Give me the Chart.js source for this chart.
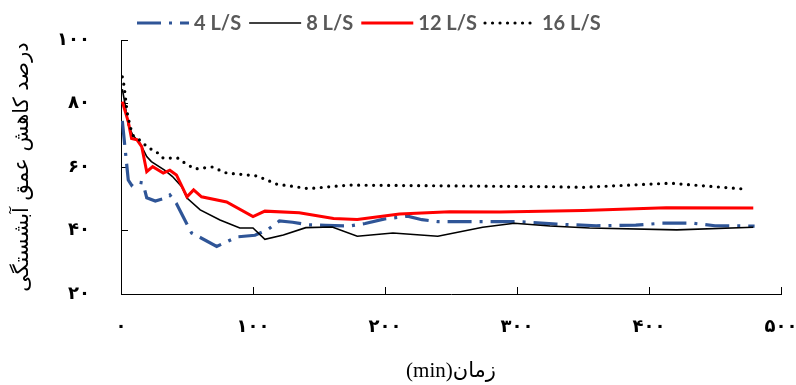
<!DOCTYPE html>
<html>
<head>
<meta charset="utf-8">
<script src="https://cdn.jsdelivr.net/npm/chart.js@4/dist/chart.umd.min.js"></script>
<style>
  html, body { margin: 0; padding: 0; background: #fff; }
  #wrap { width: 796px; height: 385px; }
</style>
</head>
<body>
<div id="wrap"><canvas id="grafico" width="796" height="385"></canvas></div>
<script>
// series labels
const seriesLabels = ['4 L/S', '8 L/S', '12 L/S', '16 L/S'];

// 4 L/S
const time4 = [1, 5.5, 8, 10.6, 16.6, 19.5, 26, 32, 37, 42, 47, 53.5, 60, 72.5, 88, 101.5, 111, 120, 130, 142, 155, 173, 185, 199, 217, 228, 240, 268, 300, 330, 360, 390, 410, 433, 450, 480];
const pct4 = [74.5, 55.9, 54.3, 55.4, 55, 50.3, 49.3, 50, 51.2, 48.5, 44.4, 39.2, 37.8, 35, 38, 38.5, 40.2, 43, 42.6, 41.8, 41.6, 41.4, 42.2, 43.6, 44.5, 43.4, 42.8, 42.8, 42.8, 42, 41.5, 41.7, 42.3, 42.3, 41.5, 41.4];

// 8 L/S
const time8 = [1, 3, 5.5, 9, 14.4, 19.5, 23, 33, 39, 46, 50, 60, 75, 90, 100, 109, 123, 140, 160, 179, 206, 240, 274, 298, 325, 355, 421, 479];
const pct8 = [84.5, 80, 73.2, 70, 67.5, 63.3, 61.7, 59, 57, 53.8, 50.2, 46.5, 43.3, 40.8, 40.8, 37.2, 38.6, 40.9, 41.1, 38.2, 39.2, 38.2, 41, 42.3, 41.4, 40.8, 40.2, 41];

// 12 L/S
const time12 = [1, 5.5, 8, 12, 15.7, 19.5, 24, 32, 37, 42, 50, 55, 61, 80, 100, 109, 135, 161, 179, 211, 249, 287, 350, 413, 479];
const pct12 = [80.6, 74.3, 69, 68.6, 66.4, 58.5, 60.1, 58.1, 59, 57.5, 50.6, 52.8, 50.6, 49, 44.4, 46.1, 45.6, 43.8, 43.5, 45.2, 45.9, 45.8, 46.3, 47.2, 47.1];

// 16 L/S
const time16 = [1, 2, 3, 4, 5, 7, 9, 15.7, 20.5, 26, 32, 43, 48.5, 56, 69, 80, 103, 118, 142, 173, 325, 350, 416, 474];
const pct16 = [88.4, 86.4, 83.3, 79.5, 76.4, 72.7, 70, 68, 66, 65.1, 62.8, 62.8, 61.2, 59.4, 60, 58.1, 57.2, 54.6, 53.2, 54.3, 53.8, 53.6, 54.9, 53];

// ticks
const xTicks = [0, 100, 200, 300, 400, 500];
const xTickLabels = ['۰', '۱۰۰', '۲۰۰', '۳۰۰', '۴۰۰', '۵۰۰'];
const yTicks = [20, 40, 60, 80, 100];
const yTickLabels = ['۲۰', '۴۰', '۶۰', '۸۰', '۱۰۰'];

const xTitle = '(min)زمان';
const yTitle = 'درصد کاهش عمق آبشستگی';

function pontos(xs, ys) {
  return xs.map((x, i) => ({ x: x, y: ys[i] }));
}

// legenda no topo, desenhada a mao
const legendaTopo = {
  id: 'legendaTopo',
  afterDraw(chart) {
    const ctx = chart.ctx;
    let x = 137;
    const y = 23;
    ctx.save();
    ctx.font = "bold 20px Lato";
    ctx.textBaseline = 'middle';
    chart.data.datasets.forEach(ds => {
      ctx.beginPath();
      ctx.strokeStyle = ds.borderColor;
      ctx.lineWidth = ds.borderWidth;
      ctx.lineCap = ds.borderCapStyle || 'butt';
      ctx.setLineDash(ds.borderDash || []);
      ctx.moveTo(x, y);
      ctx.lineTo(x + 52, y);
      ctx.stroke();
      ctx.setLineDash([]);
      x += 52 + 5;
      ctx.fillStyle = '#595959';
      ctx.fillText(ds.label, x, y + 1);
      x += ctx.measureText(ds.label).width + 8;
    });
    ctx.restore();
  }
};

// sem padding extra das escalas
function semPadding(scale) {
  scale.paddingLeft = 0;
  scale.paddingRight = 0;
  scale.paddingTop = 0;
  scale.paddingBottom = 0;
}

const fonteNum = { family: "'DejaVu Sans'", size: 18, weight: 'bold' };

new Chart(document.getElementById('grafico'), {
  type: 'line',
  data: {
    datasets: [
      {
        label: seriesLabels[0],
        data: pontos(time4, pct4),
        borderColor: '#2f5597',
        borderWidth: 3.2,
        borderDash: [24, 8, 3, 8],
        borderCapStyle: 'butt',
        order: 4
      },
      {
        label: seriesLabels[1],
        data: pontos(time8, pct8),
        borderColor: '#000000',
        borderWidth: 1.6,
        order: 3
      },
      {
        label: seriesLabels[2],
        data: pontos(time12, pct12),
        borderColor: '#ff0000',
        borderWidth: 3,
        order: 2
      },
      {
        label: seriesLabels[3],
        data: pontos(time16, pct16),
        borderColor: '#000000',
        borderWidth: 3.2,
        borderDash: [0, 7.5],
        borderCapStyle: 'round',
        order: 1
      }
    ]
  },
  options: {
    responsive: false,
    animation: false,
    devicePixelRatio: 1,
    layout: { padding: { top: 40, right: 15, left: 0, bottom: 0 } },
    elements: {
      point: { radius: 0 },
      line: { tension: 0, fill: false }
    },
    plugins: {
      legend: { display: false },
      tooltip: { enabled: false }
    },
    scales: {
      x: {
        type: 'linear',
        min: 0,
        max: 500,
        afterBuildTicks(scale) {
          scale.ticks = xTicks.map(v => ({ value: v }));
        },
        ticks: {
          padding: 30,
          color: '#000',
          font: fonteNum,
          maxRotation: 0,
          callback: (v) => xTickLabels[xTicks.indexOf(v)]
        },
        grid: { drawOnChartArea: false, drawTicks: true, tickLength: -7, color: '#000', lineWidth: 1 },
        border: { color: '#000', width: 1 },
        title: {
          display: true,
          text: xTitle,
          color: '#000',
          font: { family: "'Liberation Serif', 'DejaVu Sans'", size: 21 },
          padding: { top: 0, bottom: 1 }
        },
        afterFit(scale) {
          scale.height = 91;
          semPadding(scale);
        }
      },
      y: {
        min: 20,
        max: 100,
        afterBuildTicks(scale) {
          scale.ticks = yTicks.map(v => ({ value: v }));
        },
        ticks: {
          padding: 38,
          color: '#000',
          font: fonteNum,
          callback: (v) => yTickLabels[yTicks.indexOf(v)]
        },
        grid: { drawOnChartArea: false, drawTicks: true, tickLength: -7, color: '#000', lineWidth: 1 },
        border: { color: '#000', width: 1 },
        title: {
          display: true,
          text: yTitle,
          color: '#000',
          font: { family: "'DejaVu Sans'", size: 21 },
          padding: { top: 10, bottom: 0 }
        },
        afterFit(scale) {
          scale.width = 121;
          semPadding(scale);
        }
      }
    }
  },
  plugins: [legendaTopo]
});
</script>
</body>
</html>
